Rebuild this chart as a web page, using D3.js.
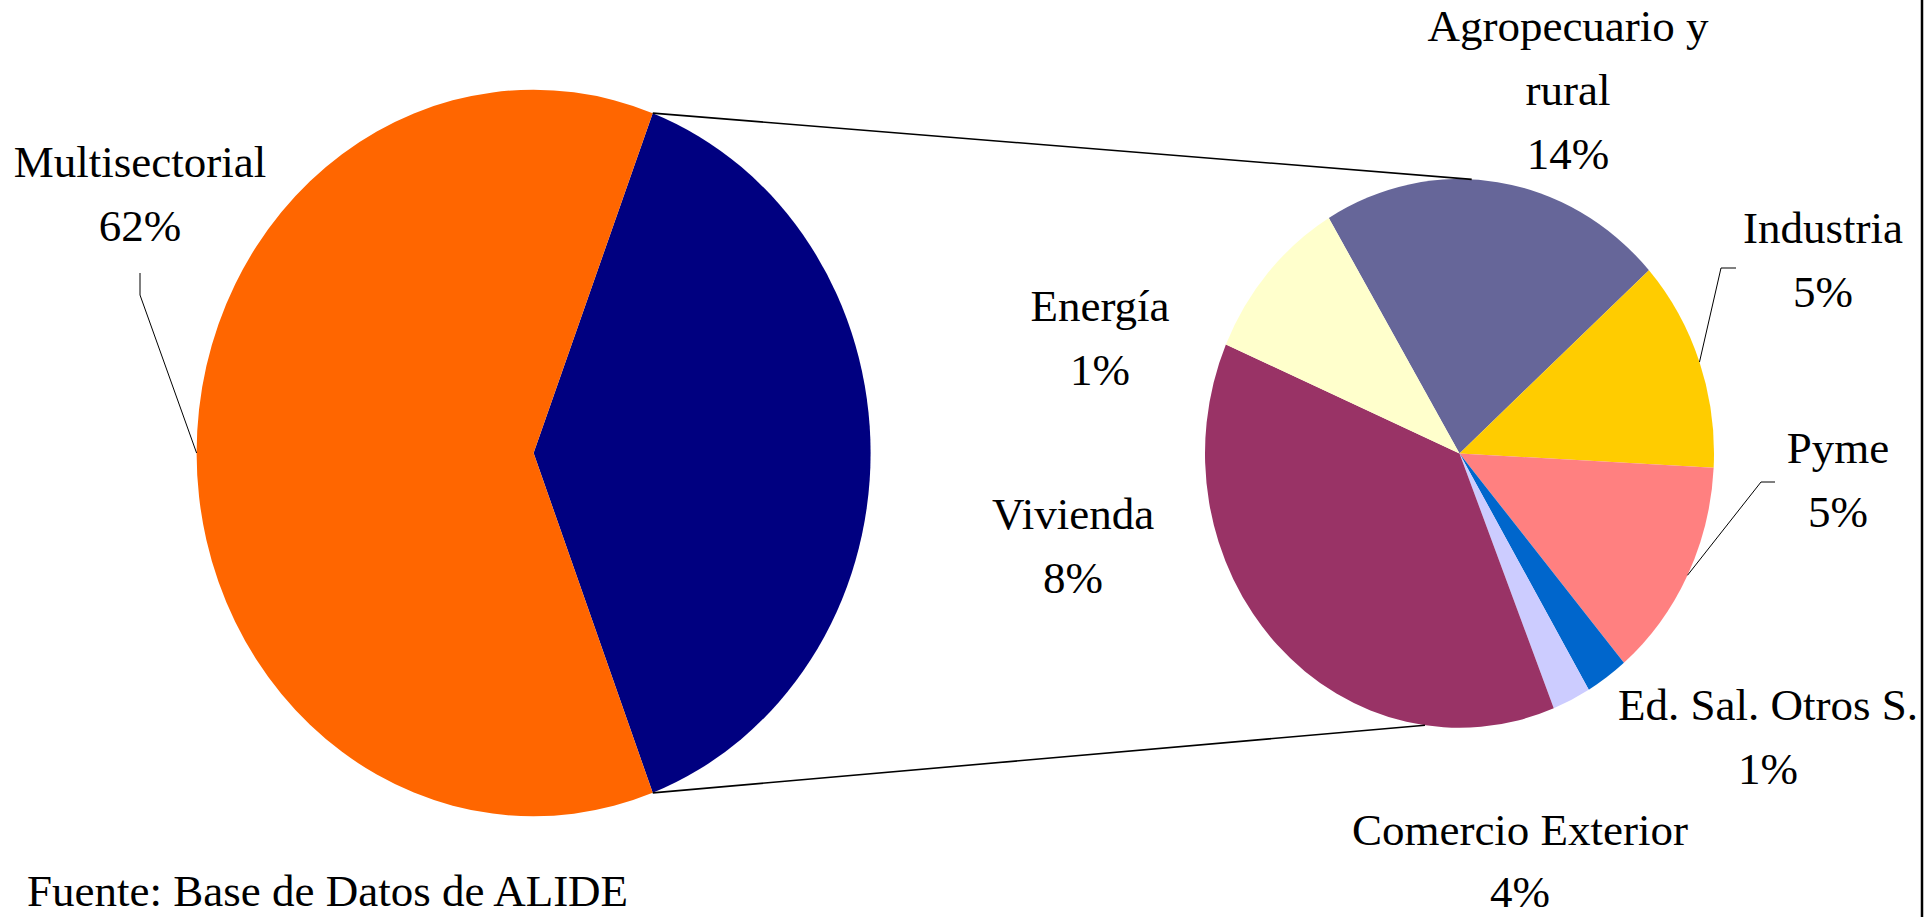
<!DOCTYPE html>
<html>
<head>
<meta charset="utf-8">
<script src="https://cdn.jsdelivr.net/npm/d3@7"></script>
<style>
  body { margin: 0; background: #fff; overflow: hidden; }
  svg { display: block; }
  text { font-family: "Liberation Serif", "Times New Roman", serif; font-size: 45px; fill: #000; }
</style>
</head>
<body>
<div id="chart"></div>
<script>
// first pie: multisectorial vs. the rest (the rest is broken down in the second pie)
var mainCategories = ["Otros sectores", "Multisectorial"];
var mainValues = [38.5, 61.5];
var mainColors = ["#000080", "#FF6600"];

// second pie, % of the total
var subCategories = ["Vivienda", "Industria", "Pyme", "Ed. Sal. Otros S.", "Energía", "Agropecuario y rural", "Comercio Exterior"];
var subValues = [8.45, 4.8, 5.0, 1.04, 0.94, 14.45, 3.82];
var subColors = ["#666699", "#FFCC00", "#FF8080", "#0066CC", "#CCCCFF", "#993366", "#FFFFCC"];

var sourceNote = "Fuente: Base de Datos de ALIDE";

// where the labels were dragged to in the original sheet
var labelPos = {
  "Multisectorial":       {x: 140,  y: 177, leader: [[140, 273], [140, 295]]},
  "Agropecuario y rural": {x: 1568, y: 41,  lines: ["Agropecuario y", "rural"]},
  "Industria":            {x: 1823, y: 243, leader: [[1736, 268], [1721, 268]]},
  "Energía":              {x: 1100, y: 321},
  "Pyme":                 {x: 1838, y: 463, leader: [[1775, 482], [1761, 482]]},
  "Vivienda":             {x: 1073, y: 529},
  "Ed. Sal. Otros S.":    {x: 1768, y: 720},
  "Comercio Exterior":    {x: 1520, y: 845, gap: 62}
};
var lineGap = 64;

var width = 1928, height = 917;
var ky = 1.078;   // pies are drawn slightly taller than wide

var left = {cx: 533.6, cy: 453, r: 337};
var right = {cx: 1459.5, cy: 453.4, r: 254.5};
var toRad = Math.PI / 180;

var svg = d3.select("#chart").append("svg")
    .attr("width", width)
    .attr("height", height);

var fmt = function(v) { return Math.round(v) + "%"; };

function edgePoint(p, a) {
  return [p.cx + p.r * Math.sin(a), p.cy - p.r * ky * Math.cos(a)];
}

// ---- first pie
var mainData = mainCategories.map(function(c, i) { return {name: c, value: mainValues[i], color: mainColors[i]}; });
var restSpan = 2 * Math.PI * mainValues[0] / d3.sum(mainValues);
var mainStart = Math.PI / 2 - restSpan / 2;
var mainArcs = d3.pie().sort(null).value(function(d) { return d.value; })
    .startAngle(mainStart).endAngle(mainStart + 2 * Math.PI)(mainData);

var arcL = d3.arc().innerRadius(0).outerRadius(left.r);
svg.append("g")
    .attr("transform", "translate(" + left.cx + "," + left.cy + ") scale(1," + ky + ")")
  .selectAll("path")
  .data(mainArcs)
  .enter().append("path")
    .attr("d", arcL)
    .attr("fill", function(d) { return d.data.color; });

// ---- second pie
var subData = subCategories.map(function(c, i) { return {name: c, value: subValues[i], color: subColors[i]}; });
var subStart = -30.9 * toRad;
var subArcs = d3.pie().sort(null).value(function(d) { return d.value; })
    .startAngle(subStart).endAngle(subStart + 2 * Math.PI)(subData);

var arcR = d3.arc().innerRadius(0).outerRadius(right.r);
svg.append("g")
    .attr("transform", "translate(" + right.cx + "," + right.cy + ") scale(1," + ky + ")")
  .selectAll("path")
  .data(subArcs)
  .enter().append("path")
    .attr("d", arcR)
    .attr("fill", function(d) { return d.data.color; });

// ---- connector lines between the pies
var rest = mainArcs[0];
var conn = [
  [edgePoint(left, rest.startAngle), edgePoint(right, 2.75 * toRad)],
  [edgePoint(left, rest.endAngle), edgePoint(right, 187.8 * toRad)]
];
svg.append("g").selectAll("line")
  .data(conn)
  .enter().append("line")
    .attr("x1", function(d) { return d[0][0]; })
    .attr("y1", function(d) { return d[0][1]; })
    .attr("x2", function(d) { return d[1][0]; })
    .attr("y2", function(d) { return d[1][1]; })
    .attr("stroke", "#000")
    .attr("stroke-width", 1.6);

// ---- labels
var labelled = [{arc: mainArcs[1], pie: left}].concat(subArcs.map(function(a) { return {arc: a, pie: right}; }));

labelled.forEach(function(l) {
  var d = l.arc.data, pos = labelPos[d.name];
  if (!pos) return;
  var lines = (pos.lines || [d.name]).concat([fmt(d.value)]);
  var gap = pos.gap || lineGap;
  var t = svg.append("text")
      .attr("text-anchor", "middle")
      .attr("x", pos.x)
      .attr("y", pos.y);
  t.selectAll("tspan")
    .data(lines)
    .enter().append("tspan")
      .attr("x", pos.x)
      .attr("dy", function(s, i) { return i == 0 ? 0 : gap; })
      .text(function(s) { return s; });

  if (pos.leader) {
    var mid = (l.arc.startAngle + l.arc.endAngle) / 2;
    var pts = pos.leader.concat([edgePoint(l.pie, mid)]);
    svg.append("path")
      .attr("d", d3.line()(pts))
      .attr("fill", "none")
      .attr("stroke", "#000")
      .attr("stroke-width", 1);
  }
});

// source note
svg.append("text")
    .attr("x", 27)
    .attr("y", 906)
    .text(sourceNote);

// frame edge on the right
svg.append("line")
    .attr("x1", 1922).attr("x2", 1922)
    .attr("y1", 0).attr("y2", height)
    .attr("stroke", "#000")
    .attr("stroke-width", 2.5);
</script>
</body>
</html>
